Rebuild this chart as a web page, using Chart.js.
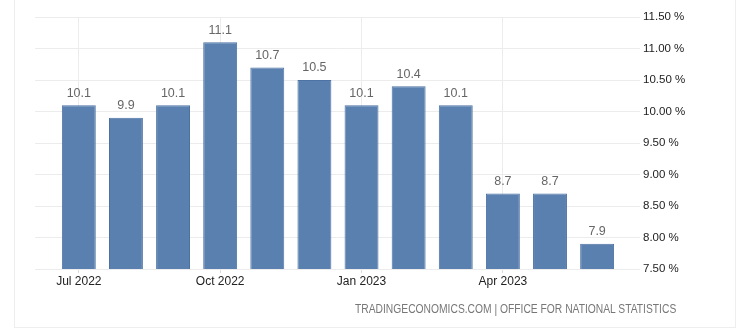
<!DOCTYPE html>
<html>
<head>
<meta charset="utf-8">
<script src="https://cdn.jsdelivr.net/npm/chart.js@4"></script>
<style>
    html, body { margin: 0; padding: 0; background: #fff; }
    #wrap { position: relative; width: 740px; height: 332px; overflow: hidden; }
    #frame { position: absolute; left: 14px; top: -2px; width: 722px; height: 330px; border: 1px solid #eeeeee; box-sizing: border-box; }
    #chart { position: absolute; left: 0; top: 0; }
    #source { position: absolute; left: 355px; top: 302px; font: 12.5px "Liberation Sans", Arial, sans-serif; color: #777; white-space: nowrap; transform-origin: 0 0; }
</style>
</head>
<body>
<div id="wrap">
    <div id="frame"></div>
    <canvas id="chart" width="740" height="332"></canvas>
    <div id="source">TRADINGECONOMICS.COM | OFFICE FOR NATIONAL STATISTICS</div>
</div>
<script>
const meses = ['Jul 2022', 'Aug 2022', 'Sep 2022', 'Oct 2022', 'Nov 2022', 'Dec 2022', 'Jan 2023', 'Feb 2023', 'Mar 2023', 'Apr 2023', 'May 2023', 'Jun 2023'];
const valores = [10.1, 9.9, 10.1, 11.1, 10.7, 10.5, 10.1, 10.4, 10.1, 8.7, 8.7, 7.9];
const ticksX = [0, 3, 6, 9];
const ticksY = [7.5, 8, 8.5, 9, 9.5, 10, 10.5, 11, 11.5];

// ajustar el ancho del texto de la fuente
const src = document.getElementById('source');
src.style.transform = 'scaleX(' + (321 / src.offsetWidth) + ')';

// etiquetas encima de cada barra
const etiquetas = {
    id: 'etiquetas',
    afterDatasetsDraw(chart) {
        const { ctx } = chart;
        const meta = chart.getDatasetMeta(0);
        ctx.save();
        ctx.font = '12.5px "Liberation Sans", Arial, sans-serif';
        ctx.fillStyle = '#666';
        ctx.textAlign = 'center';
        ctx.textBaseline = 'middle';
        meta.data.forEach((bar, i) => {
            ctx.fillText(valores[i].toFixed(1), bar.x, bar.y - 12);
        });
        ctx.restore();
    }
};

const ctx = document.getElementById('chart').getContext('2d');
new Chart(ctx, {
    type: 'bar',
    data: {
        datasets: [{
            data: valores.map((v, i) => ({ x: i, y: v })),
            backgroundColor: '#5a80b0',
            borderColor: '#4d72a3',
            borderWidth: 1,
            barPercentage: 0.9,
            categoryPercentage: 0.8
        }]
    },
    options: {
        responsive: false,
        animation: false,
        layout: { padding: { left: 35, top: 17, right: 10, bottom: 0 } },
        plugins: { legend: { display: false }, tooltip: { enabled: false } },
        scales: {
            x: {
                type: 'linear',
                offset: false,
                min: -0.93,
                max: 11.91,
                afterBuildTicks: scale => { scale.ticks = ticksX.map(v => ({ value: v })); },
                grid: { offset: false, color: '#ececec', drawTicks: true, tickLength: 4, tickColor: '#dddddd' },
                border: { display: false },
                ticks: {
                    callback: v => meses[v],
                    color: '#222',
                    font: { family: '"Liberation Sans", Arial, sans-serif', size: 12 },
                    padding: 1,
                    maxRotation: 0
                },
                afterFit: scale => { scale.height = 63; }
            },
            y: {
                position: 'right',
                min: 7.5,
                max: 11.5,
                afterBuildTicks: scale => { scale.ticks = ticksY.map(v => ({ value: v })); },
                grid: { color: '#ececec', drawTicks: false },
                border: { display: false },
                ticks: {
                    callback: v => v.toFixed(2) + ' %',
                    color: '#222',
                    font: { family: '"Liberation Sans", Arial, sans-serif', size: 11.5 },
                    padding: 3
                },
                afterFit: scale => { scale.width = 90; }
            }
        }
    },
    plugins: [etiquetas]
});
</script>
</body>
</html>
